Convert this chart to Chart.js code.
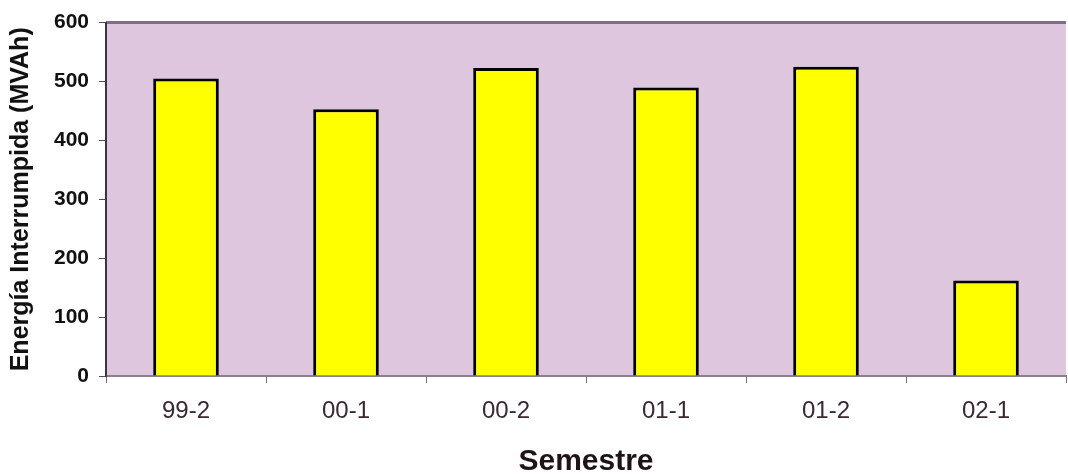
<!DOCTYPE html>
<html lang="es">
<head>
  <meta charset="UTF-8">
  <title>Energía Interrumpida por Semestre</title>
  <script src="https://cdn.jsdelivr.net/npm/chart.js"></script>
  <style>
    html, body {
      margin: 0;
      padding: 0;
      background: #ffffff;
    }
    .chart-container {
      width: 1068px;
      height: 475px;
      position: relative;
    }
  </style>
</head>
<body>

<div class="chart-container">
  <canvas id="energyChart"></canvas>
</div>

<script>
// Data
const semesters = ["99-2", "00-1", "00-2", "01-1", "01-2", "02-1"];
const energyMVAh = [505, 453, 523, 490, 525, 162];
const yTicks = [0, 100, 200, 300, 400, 500, 600];

const plotBg = "rgb(222, 199, 222)";

// fill the plot area and draw the top frame line
const plotFrame = {
  id: "plotFrame",
  beforeDraw(chart) {
    const { ctx, chartArea: a } = chart;
    ctx.save();
    ctx.fillStyle = plotBg;
    ctx.fillRect(a.left, a.top, a.right - a.left, a.bottom - a.top);
    ctx.strokeStyle = "#7d6d86";
    ctx.lineWidth = 3;
    ctx.beginPath();
    ctx.moveTo(a.left, a.top);
    ctx.lineTo(a.right, a.top);
    ctx.stroke();
    ctx.restore();
  }
};

new Chart(document.getElementById("energyChart"), {
  type: "bar",
  data: {
    labels: semesters,
    datasets: [{
      label: "Energía Interrumpida (MVAh)",
      data: energyMVAh,
      backgroundColor: "#ffff00",
      borderColor: "#000000",
      borderWidth: 3,
      borderSkipped: "bottom",
      barPercentage: 0.41,
      categoryPercentage: 1.0
    }]
  },
  options: {
    responsive: true,
    maintainAspectRatio: false,
    animation: false,
    layout: {
      padding: { top: 22, right: 2, bottom: 0, left: 0 }
    },
    plugins: {
      legend: { display: false },
      tooltip: { enabled: false }
    },
    scales: {
      x: {
        afterFit(scale) { scale.height = 99; },
        grid: {
          display: true,
          drawOnChartArea: false,
          drawTicks: true,
          tickLength: 7,
          tickColor: "#7a6f78",
          offset: true
        },
        border: { display: true, color: "#8c7f8c", width: 2 },
        ticks: {
          color: "#3a2a32",
          padding: 14,
          font: { family: "Liberation Sans, Arial, sans-serif", size: 24 }
        },
        title: {
          display: true,
          text: "Semestre",
          color: "#1e1418",
          padding: 0,
          font: { family: "Liberation Sans, Arial, sans-serif", size: 30, weight: "bold", lineHeight: 0.9 }
        }
      },
      y: {
        min: 0,
        max: 600,
        afterFit(scale) { scale.width = 106; },
        afterBuildTicks(scale) {
          scale.ticks = yTicks.map(v => ({ value: v }));
        },
        grid: {
          display: true,
          drawOnChartArea: false,
          drawTicks: true,
          tickLength: 7,
          tickColor: "#5a4a5a"
        },
        border: { display: true, color: "#3e3344", width: 2 },
        ticks: {
          color: "#111111",
          padding: 10,
          font: { family: "Liberation Sans, Arial, sans-serif", size: 21, weight: "bold" }
        },
        title: {
          display: true,
          text: "Energía Interrumpida (MVAh)",
          color: "#111111",
          padding: { top: 9, bottom: 0 },
          font: { family: "Liberation Sans, Arial, sans-serif", size: 25, weight: "bold", lineHeight: 1 }
        }
      }
    }
  },
  plugins: [plotFrame]
});
</script>

</body>
</html>
